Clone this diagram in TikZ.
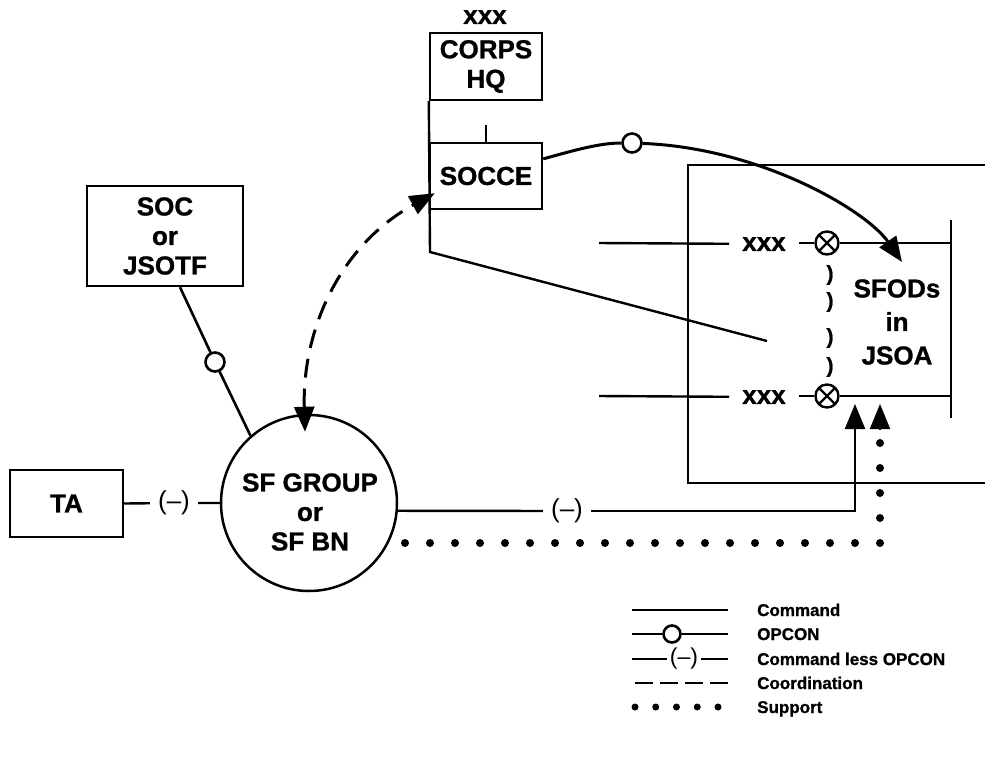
\documentclass[tikz,border=0pt]{standalone}
\usepackage{fontspec}
\setmainfont{Liberation Sans}[BoldFeatures={FakeBold=1}]
\usetikzlibrary{arrows.meta,calc}
\begin{document}
\begin{tikzpicture}[x=1pt,y=-1pt,
  every node/.style={font=\fontsize{26}{29.5}\selectfont\bfseries},
  box/.style={draw, line width=2.4pt, rectangle, inner sep=0pt, align=center},
  cmd/.style={line width=2.4pt},
  opc/.style={circle, draw, line width=2.6pt, minimum size=19pt, inner sep=0pt},
  lessop/.style={inner xsep=8pt, inner ysep=2pt, font=\fontsize{26}{26}\selectfont},
  coordl/.style={line width=3pt, dash pattern=on 19pt off 11pt},
  supp/.style={line width=8pt, line cap=round, dash pattern=on 0pt off 25pt},
  arrowhd/.style={-{Triangle[length=25pt,width=20pt]}},
  xcirc/.style={circle, draw, line width=2.4pt, minimum size=23pt, inner sep=0pt,
    path picture={\draw[line width=2.2pt] (path picture bounding box.center) +(45:12pt) -- +(225:12pt)
      (path picture bounding box.center) +(135:12pt) -- +(-45:12pt);}},
  paren/.style={font=\fontsize{21}{21}\selectfont\bfseries, inner sep=0pt},
  legtext/.style={font=\fontsize{17}{17}\selectfont\bfseries, anchor=base west, inner sep=0pt},
  ]
\useasboundingbox (0,0) rectangle (985,764);

% ---- boxes
\node (corpsx) at (485,17) {xxx};
\node[box, minimum width=112pt, minimum height=67pt] (corps) at (486,66.5) {CORPS\\HQ};
\node[box, minimum width=112pt, minimum height=66pt] (socce) at (486,176) {SOCCE};
\node[box, minimum width=156pt, minimum height=100pt] (soc) at (165,236) {SOC\\or\\JSOTF};
\node[box, minimum width=113pt, minimum height=67pt] (ta) at (66.5,503.5) {TA};
\node[circle, draw, line width=2.5pt, minimum size=176pt, inner sep=0pt] (sfg) at (309,503) {};
\node[align=center] (sfgt) at (310,512) {SF GROUP\\or\\SF BN};

% ---- JSOA frame
\draw[cmd] (985,165) -- (688,165) -- (688,483) -- (985,483);

% ---- rows with xxx and crossed circles
\coordinate (l1) at (599,243);
\coordinate (l2) at (599,396);
\node[inner xsep=13pt] (xa) at (764,244) {xxx};
\node[inner xsep=13pt] (xb) at (764,397) {xxx};
\node[xcirc] (xc1) at (827,243) {};
\node[xcirc] (xc2) at (827,396) {};
\coordinate (r1) at (951,243);
\coordinate (r2) at (951,396);
\draw[cmd] (l1) -- (xa);
\draw[cmd] (xa.east |- xc1) -- (xc1) -- (r1);
\draw[cmd] (l2) -- (xb);
\draw[cmd] (xb.east |- xc2) -- (xc2) -- (r2);
\coordinate (vt) at (951,220);
\coordinate (vb) at (951,418);
\draw[cmd] (vt) -- (vb);

\foreach \yy [count=\i] in {275,302,338,367}
  \node[paren] (p\i) at (830,\yy) {)};

\node[align=center, font=\fontsize{26}{33.5}\selectfont\bfseries] (sfods) at (897,322) {SFODs\\in\\JSOA};

% ---- command line from CORPS HQ
\coordinate (tick) at (486,125);
\draw[cmd] (tick) -- (socce.north);
\coordinate (cmdbend) at (430,252);
\coordinate (cmdend) at (767,341);
\draw[cmd] (corps.south west) -- (cmdbend) -- (cmdend);

% ---- OPCON SOCCE -> SFODs
\node[opc] (o2) at (632,143) {};
\coordinate (sstart) at ($(socce.north east)!0.25!(socce.south east)$);
\coordinate (t0) at (902,262);
\draw[line width=3pt] (sstart) .. controls (575,150) and (600,143) .. (o2);
\draw[line width=3pt, arrowhd] (o2) .. controls (760,148) and (866,210) .. (t0);

% ---- coordination SOCCE <-> SF group
\coordinate (ct1) at ($(socce.south west)+(6,-17)$);
\coordinate (ct2) at ($(sfg.north)+(-4,18)$);
\draw[coordl, {Triangle[length=25pt,width=20pt]}-{Triangle[length=25pt,width=20pt]}]
  (ct2) .. controls (302,330) and (340,245) .. (ct1);

% ---- OPCON SOC -> SF group
\coordinate (socb) at ($(soc.south)+(15,0)$);
\node[opc] (o1) at (215,362) {};
\draw[line width=2.6pt] (socb) -- (o1) -- (sfg.131);

% ---- TA command less OPCON
\node[lessop] (lo1) at (174,503) {(–)};
\draw[cmd] (ta.east) -- (lo1) -- (sfg.west);

% ---- SF group command less OPCON to SFODs
\node[lessop] (lo2) at (567,511) {(–)};
\coordinate (t1) at (855,404);
\draw[cmd] (sfg.-5) -- (lo2);
\draw[cmd, arrowhd] (lo2) -- (lo2 -| t1) -- (t1);

% ---- support
\coordinate (s0) at (405,543);
\coordinate (t2) at (880,404);
\draw[supp] (s0) -- (s0 -| t2) -- ($(t2)+(0,25)$);
\draw[line width=2pt, arrowhd] ($(t2)+(0,25)$) -- (t2);

% ---- legend
\coordinate (lg1a) at (632,610); \coordinate (lg1b) at (728,610);
\draw[cmd] (lg1a) -- (lg1b);
\node[legtext] (lt1) at (757,616) {Command};

\coordinate (lg2a) at (632,634); \coordinate (lg2b) at (728,634);
\node[opc, minimum size=17pt] (lgo) at (672,634) {};
\draw[cmd] (lg2a) -- (lgo) -- (lg2b);
\node[legtext] (lt2) at (757,640) {OPCON};

\coordinate (lg3a) at (632,659); \coordinate (lg3b) at (728,659);
\node[lessop, font=\fontsize{23}{23}\selectfont, inner xsep=3pt] (lgl) at (684,659) {(–)};
\draw[cmd] (lg3a) -- (lgl) -- (lg3b);
\node[legtext] (lt3) at (757,665) {Command less OPCON};

\coordinate (lg4a) at (635,683); \coordinate (lg4b) at (728,683);
\draw[line width=2.5pt, dash pattern=on 18pt off 7pt] (lg4a) -- (lg4b);
\node[legtext] (lt4) at (757,689) {Coordination};

\coordinate (lg5a) at (635,707); \coordinate (lg5b) at (718,707);
\draw[line width=7pt, line cap=round, dash pattern=on 0pt off 20.75pt] (lg5a) -- (lg5b);
\node[legtext] (lt5) at (757,713) {Support};
\end{tikzpicture}
\end{document}
